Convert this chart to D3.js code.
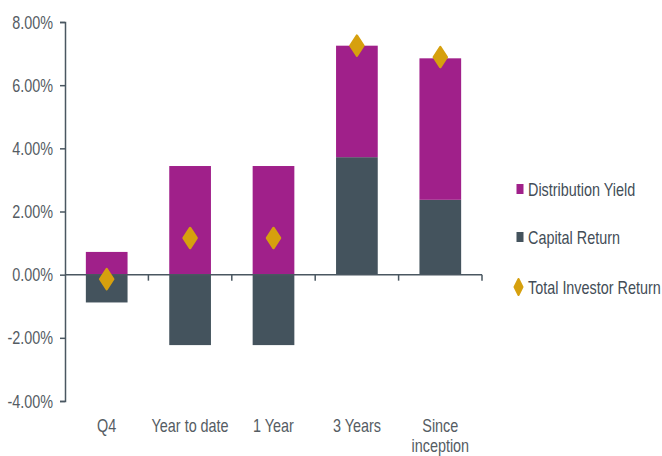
<!DOCTYPE html>
<html>
<head>
<meta charset="utf-8">
<script src="https://cdn.jsdelivr.net/npm/d3@7"></script>
<style>
  html, body { margin: 0; padding: 0; background: #ffffff; }
  svg { display: block; }
  text { font-family: "Liberation Sans", Arial, sans-serif; }
</style>
</head>
<body>
<svg id="chart" width="662" height="456"></svg>
<script>
// ---- Data ----
const categories = ["Q4", "Year to date", "1 Year", "3 Years", "Since inception"];
const capitalReturn = [-0.88, -2.23, -2.23, 3.72, 2.37];
const distributionYield = [0.72, 3.44, 3.44, 3.53, 4.48];
const totalInvestorReturn = [-0.14, 1.16, 1.16, 7.25, 6.89];
const yTicks = [-4, -2, 0, 2, 4, 6, 8];
const seriesNames = ["Distribution Yield", "Capital Return", "Total Investor Return"];

// ---- Styles ----
const colDY = "#A0208A";
const colCR = "#44535D";
const colTIR = "#D6A00E";
const axisCol = "#4a5761";
const labelCol = "#555c63";
const legendCol = "#434d57";
const fontSize = 18;
const squeeze = 0.8;

const svg = d3.select("#chart");

const x = d3.scaleBand().domain(categories).range([65, 482]).paddingInner(0.5).paddingOuter(0.25);
const y = d3.scaleLinear().domain([-4, 8]).range([401, 22]);

// helper for horizontally compressed text
function txt(g, tx, ty, s, anchor, color) {
  return g.append("text")
    .attr("transform", `translate(${tx},${ty}) scale(${squeeze},1)`)
    .attr("text-anchor", anchor)
    .attr("font-size", fontSize)
    .attr("fill", color)
    .text(s);
}

// ---- Stack ----
const rows = categories.map((c, i) => ({cat: c, capital: capitalReturn[i], dist: distributionYield[i]}));
const stack = d3.stack().keys(["capital", "dist"]).offset(d3.stackOffsetDiverging);
const layers = stack(rows);
const colors = {capital: colCR, dist: colDY};

const barsG = svg.append("g");
layers.forEach(layer => {
  barsG.selectAll(null).data(layer).enter().append("rect")
    .attr("x", d => x(d.data.cat))
    .attr("width", x.bandwidth())
    .attr("y", d => y(Math.max(d[0], d[1])))
    .attr("height", d => Math.abs(y(d[0]) - y(d[1])))
    .attr("fill", colors[layer.key]);
});

// ---- Axes ----
const yAxis = d3.axisLeft(y).tickValues(yTicks).tickSize(5).tickFormat(d => d.toFixed(2) + "%");
const yg = svg.append("g").attr("transform", "translate(65,0)").call(yAxis);
yg.select(".domain").attr("stroke", axisCol).attr("stroke-width", 1.5);
yg.selectAll(".tick line").attr("stroke", axisCol).attr("stroke-width", 1.5);
yg.selectAll(".tick text").remove();
yg.selectAll(".tick").each(function(d) {
  txt(d3.select(this), -12, 6, d.toFixed(2) + "%", "end", labelCol);
});

// x axis line at zero with ticks at category boundaries
const xg = svg.append("g");
xg.append("line")
  .attr("x1", x.range()[0]).attr("x2", x.range()[1])
  .attr("y1", y(0)).attr("y2", y(0))
  .attr("stroke", axisCol).attr("stroke-width", 1.5);
const step = x.step();
const boundaries = categories.map((c, i) => x.range()[0] + step * (i + 1));
xg.selectAll(null).data(boundaries).enter().append("line")
  .attr("x1", d => d).attr("x2", d => d)
  .attr("y1", y(0)).attr("y2", y(0) + 6)
  .attr("stroke", axisCol).attr("stroke-width", 1.5);

// category labels at the bottom
const labG = svg.append("g");
categories.forEach(c => {
  const cx = x(c) + x.bandwidth() / 2;
  const words = c === "Since inception" ? ["Since", "inception"] : [c];
  words.forEach((w, j) => txt(labG, cx, 432 + j * 19.5, w, "middle", labelCol));
});

// ---- Diamonds (Total Investor Return) ----
function diamondPath(hw, hh) {
  return `M0,${-hh}L${hw},0L0,${hh}L${-hw},0Z`;
}
svg.append("g").selectAll("path").data(categories).enter().append("path")
  .attr("transform", (c, i) => `translate(${x(c) + x.bandwidth() / 2},${y(totalInvestorReturn[i])})`)
  .attr("d", diamondPath(6.5, 10))
  .attr("fill", colTIR)
  .attr("stroke", colTIR)
  .attr("stroke-width", 2.5)
  .attr("stroke-linejoin", "round");

// ---- Legend ----
const lg = svg.append("g");
const legendY = [189, 237, 287];
// Distribution Yield
lg.append("rect").attr("x", 516.5).attr("y", legendY[0] - 5).attr("width", 7).attr("height", 10).attr("fill", colDY);
txt(lg, 528, legendY[0] + 7, seriesNames[0], "start", legendCol);
// Capital Return
lg.append("rect").attr("x", 516.5).attr("y", legendY[1] - 5).attr("width", 7).attr("height", 10).attr("fill", colCR);
txt(lg, 528, legendY[1] + 7, seriesNames[1], "start", legendCol);
// Total Investor Return
lg.append("path")
  .attr("transform", `translate(518.5,${legendY[2]})`)
  .attr("d", diamondPath(4, 8))
  .attr("fill", colTIR).attr("stroke", colTIR).attr("stroke-width", 2)
  .attr("stroke-linejoin", "round");
txt(lg, 528, legendY[2] + 7, seriesNames[2], "start", legendCol);
</script>
</body>
</html>
